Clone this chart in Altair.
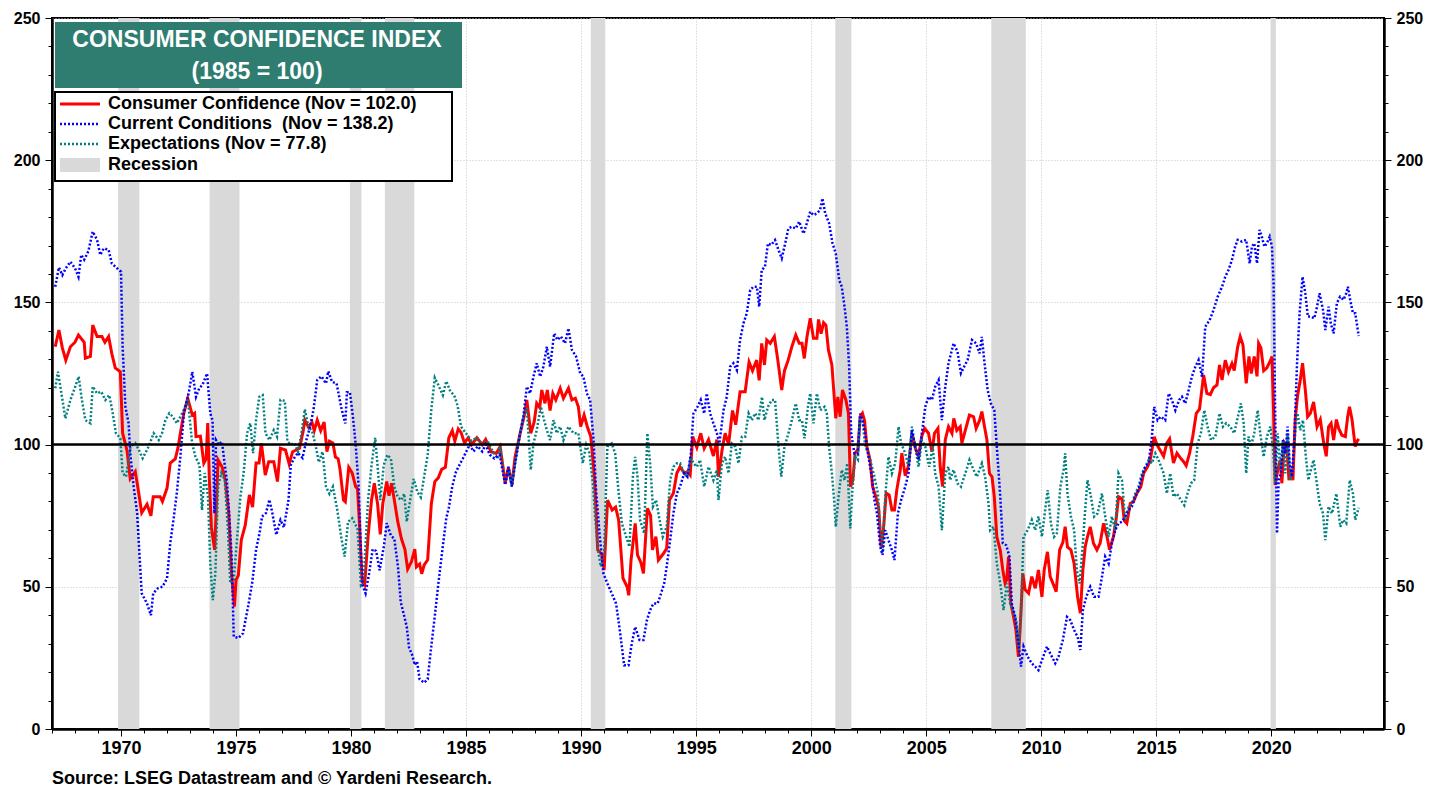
import altair as alt
import pandas as pd

# ---------------- data (decimal year, index value) ----------------
CONSUMER_CONFIDENCE = [
(1967.14,134.4),(1967.30,140.3),(1967.45,134.0),(1967.60,129.7),(1967.80,134.4),(1968.00,136.0),(1968.15,138.5),(1968.40,136.0),(1968.45,130.4),(1968.67,131.0),(1968.77,142.0),(1968.96,138.0),(1969.17,138.0),(1969.30,136.0),(1969.46,138.0),(1969.60,132.0),(1969.75,127.0),(1969.97,125.6),(1970.07,104.0),(1970.26,98.0),(1970.40,88.0),(1970.62,90.5),(1970.77,83.0),(1970.90,76.0),(1971.13,79.0),(1971.30,75.0),(1971.40,81.7),(1971.70,81.7),(1971.80,80.0),(1972.00,84.7),(1972.14,93.5),(1972.36,95.0),(1972.48,99.0),(1972.58,104.0),(1972.73,111.0),(1972.90,116.3),(1973.10,110.4),(1973.20,111.0),(1973.26,102.8),(1973.45,103.0),(1973.60,93.5),(1973.70,95.0),(1973.77,107.6),(1973.84,87.5),(1973.93,70.7),(1974.07,63.0),(1974.22,94.6),(1974.40,92.0),(1974.53,87.5),(1974.68,76.0),(1974.80,55.0),(1974.93,43.0),(1975.00,52.4),(1975.10,54.0),(1975.23,66.5),(1975.40,71.7),(1975.58,82.3),(1975.72,78.0),(1975.87,93.5),(1976.00,93.5),(1976.10,100.5),(1976.27,89.3),(1976.42,94.0),(1976.64,94.0),(1976.80,87.0),(1976.93,98.7),
(1977.15,98.1),(1977.31,93.2),(1977.46,97.5),(1977.61,98.1),(1977.76,98.7),(1977.92,104.9),(1977.99,108.6),(1978.15,106.1),(1978.30,107.9),(1978.40,104.9),(1978.53,108.6),(1978.68,104.9),(1978.83,107.9),(1978.95,97.5),(1979.06,101.2),(1979.21,100.6),(1979.32,95.6),(1979.44,95.0),(1979.52,91.3),(1979.67,80.5),(1979.75,79.9),(1979.90,92.0),(1980.05,90.0),(1980.20,85.2),(1980.28,84.5),(1980.36,72.9),(1980.48,51.8),(1980.59,50.6),(1980.74,67.8),(1980.89,80.5),(1981.01,86.4),(1981.15,79.3),(1981.27,68.4),(1981.38,79.3),(1981.55,87.0),(1981.65,82.0),(1981.76,86.4),(1981.88,80.5),(1982.03,72.9),(1982.19,66.9),(1982.34,63.2),(1982.46,56.2),(1982.62,58.7),(1982.77,63.2),(1982.84,57.0),(1982.98,58.0),(1983.07,54.6),(1983.18,57.7),(1983.33,59.5),(1983.49,79.3),(1983.64,87.0),(1983.79,88.3),(1983.94,91.3),(1984.10,92.0),(1984.25,102.4),(1984.40,104.9),(1984.51,101.2),(1984.66,105.5),(1984.78,104.3),(1984.93,100.6),(1985.09,102.4),(1985.24,100.0),(1985.47,102.4),(1985.70,100.0),(1985.85,101.8),(1986.08,97.5),(1986.31,96.9),
(1986.48,99.3),(1986.70,86.4),(1986.84,92.0),(1986.99,85.8),(1987.13,95.7),(1987.35,104.0),(1987.52,109.8),(1987.64,115.7),(1987.81,104.0),(1987.96,108.0),(1988.07,114.5),(1988.20,113.0),(1988.29,119.2),(1988.43,114.5),(1988.53,119.2),(1988.65,112.0),(1988.77,118.0),(1988.90,115.7),(1989.09,119.8),(1989.23,116.3),(1989.45,119.8),(1989.60,115.7),(1989.75,116.3),(1989.88,113.3),(1989.98,106.3),(1990.13,110.4),(1990.27,106.3),(1990.42,102.8),(1990.54,92.2),(1990.60,85.0),(1990.72,63.0),(1990.90,61.5),(1991.00,55.9),(1991.15,80.5),(1991.35,77.0),(1991.50,78.0),(1991.63,73.5),(1991.82,53.0),(1992.00,50.0),(1992.07,47.0),(1992.17,59.4),(1992.35,72.3),(1992.45,61.2),(1992.60,58.5),(1992.71,54.7),(1992.88,77.6),(1993.02,75.0),(1993.10,63.0),(1993.25,67.6),(1993.36,59.4),(1993.58,61.7),(1993.72,63.5),(1993.84,80.5),(1994.01,82.9),(1994.16,89.9),(1994.30,92.2),(1994.48,90.0),(1994.62,90.5),(1994.74,89.3),(1994.85,102.8),(1995.03,99.0),(1995.20,104.0),(1995.35,98.7),(1995.54,101.8),(1995.75,96.0),(1995.90,101.8),(1995.97,88.7),(1996.13,98.3),
(1996.26,104.0),(1996.41,100.0),(1996.58,112.0),(1996.72,107.0),(1996.91,118.6),(1997.13,118.6),(1997.30,129.0),(1997.45,126.0),(1997.63,129.7),(1997.74,122.6),(1997.85,135.6),(1997.97,128.0),(1998.07,136.8),(1998.22,135.6),(1998.40,138.0),(1998.55,129.7),(1998.72,119.2),(1998.84,126.0),(1999.00,129.7),(1999.16,134.4),(1999.33,138.5),(1999.48,135.6),(1999.60,135.6),(1999.70,130.3),(1999.82,138.0),(1999.96,144.4),(2000.10,137.4),(2000.25,137.4),(2000.32,144.0),(2000.43,139.0),(2000.54,142.9),(2000.64,142.0),(2000.75,133.3),(2000.90,128.0),(2001.07,109.2),(2001.16,116.8),(2001.26,109.8),(2001.36,119.2),(2001.51,115.7),(2001.62,111.0),(2001.71,85.2),(2001.81,87.5),(2001.91,97.0),(2002.03,98.3),(2002.13,109.8),(2002.23,111.0),(2002.32,108.5),(2002.42,99.3),(2002.56,94.6),(2002.67,85.2),(2002.81,81.7),(2002.93,78.0),(2003.04,64.1),(2003.14,70.0),(2003.26,82.9),(2003.39,82.3),(2003.51,77.0),(2003.62,77.0),(2003.72,84.0),(2003.87,91.0),(2003.94,97.0),(2004.09,89.0),(2004.23,92.6),(2004.38,104.0),(2004.52,99.0),(2004.67,96.0),(2004.81,103.0),(2004.93,105.7),(2005.10,104.0),(2005.25,97.5),(2005.36,104.0),(2005.51,105.7),(2005.61,92.2),(2005.71,85.2),(2005.83,101.7),(2005.97,106.3),(2006.12,104.0),
(2006.20,109.2),(2006.33,105.0),(2006.48,106.3),(2006.55,100.5),(2006.70,105.0),(2006.88,110.4),(2007.06,109.8),(2007.17,105.7),(2007.32,108.5),(2007.42,111.6),(2007.52,107.0),(2007.64,101.6),(2007.75,89.9),(2007.86,88.7),(2007.96,81.7),(2008.07,67.6),(2008.22,62.8),(2008.33,55.9),(2008.43,51.2),(2008.50,52.4),(2008.58,60.6),(2008.68,44.1),(2008.80,39.4),(2008.90,34.8),(2009.01,25.4),(2009.08,34.8),(2009.20,54.7),(2009.30,49.0),(2009.45,47.7),(2009.59,53.6),(2009.74,49.5),(2009.88,55.9),(2010.03,46.5),(2010.13,55.9),(2010.27,62.3),(2010.39,53.6),(2010.54,50.6),(2010.65,48.3),(2010.80,63.0),(2010.94,65.6),(2011.04,71.1),(2011.14,64.0),(2011.29,63.0),(2011.43,58.2),(2011.58,46.5),(2011.70,40.7),(2011.81,55.9),(2011.91,64.0),(2012.01,67.6),(2012.13,71.1),(2012.27,65.3),(2012.42,63.0),(2012.56,65.3),(2012.71,72.3),(2012.86,67.6),(2012.97,63.0),(2013.14,67.6),(2013.26,74.0),(2013.36,81.7),(2013.51,81.0),(2013.61,73.3),(2013.72,72.3),(2013.87,79.3),(2014.01,79.9),(2014.16,82.9),(2014.33,85.2),(2014.45,89.9),(2014.62,92.2),(2014.74,94.6),(2014.91,102.8),(2015.03,100.0),
(2015.17,98.0),(2015.32,95.9),(2015.46,100.5),(2015.58,102.0),(2015.75,93.5),(2015.90,97.0),(2016.04,95.4),(2016.19,94.0),(2016.30,92.6),(2016.45,97.0),(2016.59,103.0),(2016.74,111.0),(2016.88,112.5),(2017.06,124.5),(2017.20,118.0),(2017.35,117.6),(2017.49,120.0),(2017.64,121.0),(2017.75,128.0),(2017.86,122.7),(2018.00,129.7),(2018.14,125.6),(2018.29,128.5),(2018.39,126.0),(2018.54,134.4),(2018.65,138.0),(2018.77,135.0),(2018.91,121.5),(2019.03,131.0),(2019.13,125.0),(2019.26,131.0),(2019.38,124.0),(2019.45,135.6),(2019.55,134.0),(2019.67,126.0),(2019.81,127.0),(2019.96,129.5),(2020.03,131.0),(2020.10,111.5),(2020.17,85.8),(2020.28,91.0),(2020.39,94.6),(2020.46,86.4),(2020.57,100.5),(2020.68,99.0),(2020.77,87.5),(2020.86,90.0),(2020.94,87.5),(2021.04,108.8),(2021.14,117.0),(2021.26,122.7),(2021.36,128.6),(2021.48,119.2),(2021.58,109.8),(2021.70,111.0),(2021.84,115.0),(2021.99,106.3),(2022.13,108.8),(2022.28,100.5),(2022.39,95.9),(2022.49,106.3),(2022.60,107.5),(2022.71,101.6),(2022.83,108.8),(2022.93,105.7),(2023.07,103.3),(2023.22,102.8),(2023.32,109.8),(2023.40,113.3),(2023.51,108.8),(2023.58,104.0),(2023.65,99.3),(2023.72,101.0),(2023.80,102.0),
]

CURRENT_CONDITIONS = [
(1967.14,155.5),(1967.30,162.3),(1967.45,159.6),(1967.60,162.0),(1967.80,164.3),(1968.00,162.0),(1968.15,159.0),(1968.27,166.7),(1968.40,165.0),(1968.58,168.0),(1968.77,174.9),(1968.96,172.0),(1969.10,166.7),(1969.25,169.0),(1969.46,168.5),(1969.60,163.7),(1969.83,162.0),(1970.00,160.8),(1970.07,134.4),(1970.19,113.3),(1970.33,107.5),(1970.40,97.0),(1970.55,85.2),(1970.70,75.9),(1970.80,61.8),(1970.90,47.7),(1971.13,44.1),(1971.30,40.0),(1971.40,47.7),(1971.60,49.5),(1971.80,50.0),(1972.00,53.0),(1972.14,65.3),(1972.30,74.7),(1972.43,83.4),(1972.58,95.7),(1972.73,111.0),(1972.94,118.0),(1973.10,125.6),(1973.26,116.8),(1973.40,119.8),(1973.54,121.0),(1973.74,125.0),(1973.88,111.0),(1973.98,108.5),(1974.06,75.8),(1974.13,101.6),(1974.24,100.0),(1974.39,101.0),(1974.50,93.5),(1974.60,87.5),(1974.70,76.0),(1974.81,60.6),(1974.90,32.5),(1975.10,32.0),(1975.30,33.6),(1975.55,44.2),(1975.70,51.3),(1975.87,63.0),(1976.02,68.8),(1976.13,74.7),(1976.30,75.9),(1976.45,80.6),(1976.58,75.9),(1976.75,68.3),(1976.93,73.5),
(1977.08,70.9),(1977.28,80.5),(1977.38,92.8),(1977.53,95.3),(1977.69,97.1),(1977.89,95.3),(1978.07,102.0),(1978.22,106.3),(1978.37,112.4),(1978.53,122.7),(1978.71,124.0),(1978.91,121.5),(1979.01,125.8),(1979.17,122.1),(1979.37,121.5),(1979.59,112.4),(1979.75,107.4),(1979.82,118.4),(1979.95,118.4),(1980.08,109.9),(1980.20,100.0),(1980.33,85.2),(1980.43,61.9),(1980.51,50.2),(1980.63,47.7),(1980.78,54.5),(1980.94,63.2),(1981.09,62.6),(1981.24,55.8),(1981.43,64.4),(1981.55,72.4),(1981.73,68.0),(1981.88,66.9),(1982.04,57.0),(1982.16,44.6),(1982.31,39.7),(1982.42,36.0),(1982.52,28.6),(1982.65,26.2),(1982.77,22.5),(1982.87,23.7),(1982.98,17.5),(1983.18,16.3),(1983.33,17.5),(1983.48,28.6),(1983.64,39.7),(1983.79,50.8),(1983.99,64.4),(1984.14,74.2),(1984.25,77.9),(1984.40,85.3),(1984.55,90.2),(1984.70,92.7),(1984.86,95.1),(1985.01,97.6),(1985.16,100.0),(1985.32,97.6),(1985.51,99.4),(1985.70,97.6),(1985.85,100.0),(1986.03,96.4),(1986.23,95.1),(1986.46,96.4),
(1986.70,85.8),(1986.84,92.2),(1986.99,85.2),(1987.13,93.4),(1987.35,104.0),(1987.49,109.8),(1987.64,120.4),(1987.78,118.0),(1987.93,123.9),(1988.07,128.6),(1988.22,123.9),(1988.36,127.4),(1988.51,134.4),(1988.65,127.4),(1988.83,139.1),(1988.97,136.8),(1989.12,138.0),(1989.30,135.6),(1989.45,140.9),(1989.60,133.3),(1989.78,131.0),(1989.96,125.1),(1990.10,123.9),(1990.25,118.0),(1990.39,115.7),(1990.54,101.7),(1990.65,84.0),(1990.80,68.8),(1990.97,54.7),(1991.14,51.2),(1991.33,47.7),(1991.52,44.1),(1991.70,33.6),(1991.87,22.4),(1992.06,22.4),(1992.20,30.0),(1992.35,35.9),(1992.54,31.3),(1992.71,31.3),(1992.86,38.3),(1993.00,41.8),(1993.14,44.1),(1993.32,44.1),(1993.43,46.5),(1993.61,51.2),(1993.72,57.1),(1993.87,66.4),(1994.01,75.8),(1994.16,82.8),(1994.30,85.2),(1994.48,89.9),(1994.62,88.7),(1994.77,96.9),(1994.88,110.9),(1995.06,113.3),(1995.20,115.7),(1995.35,110.9),(1995.46,118.0),(1995.61,110.9),(1995.75,107.5),(1995.90,104.0),(1996.01,100.4),(1996.19,112.1),
(1996.33,116.8),(1996.48,127.4),(1996.62,128.6),(1996.77,126.2),(1996.91,136.8),(1997.06,142.7),(1997.20,146.2),(1997.35,154.3),(1997.49,155.5),(1997.64,155.5),(1997.74,148.5),(1997.85,161.4),(1997.99,162.5),(1998.12,170.7),(1998.26,170.2),(1998.43,171.9),(1998.58,168.4),(1998.72,165.5),(1998.87,170.7),(1999.01,176.0),(1999.16,176.6),(1999.33,176.0),(1999.48,178.4),(1999.67,174.2),(1999.81,177.8),(1999.96,181.9),(2000.10,180.7),(2000.25,181.3),(2000.39,182.5),(2000.49,186.6),(2000.61,181.3),(2000.78,177.8),(2000.93,170.7),(2001.07,167.2),(2001.22,157.8),(2001.33,155.5),(2001.45,148.5),(2001.55,141.4),(2001.65,127.4),(2001.74,103.9),(2001.88,96.9),(2002.03,96.9),(2002.13,110.9),(2002.23,108.6),(2002.35,103.9),(2002.49,95.7),(2002.64,88.7),(2002.75,80.5),(2002.86,75.8),(2003.00,64.1),(2003.10,61.2),(2003.22,69.9),(2003.36,66.4),(2003.51,62.9),(2003.62,59.4),(2003.77,75.8),(2003.91,80.5),(2004.09,85.2),(2004.23,89.9),(2004.38,105.1),(2004.52,99.3),(2004.67,94.6),(2004.81,103.9),(2004.96,113.3),(2005.10,116.8),(2005.25,115.7),(2005.39,120.4),(2005.54,122.7),(2005.68,108.6),(2005.83,120.4),(2005.97,128.6),(2006.19,135.6),
(2006.36,132.7),(2006.51,125.1),(2006.65,127.4),(2006.80,129.8),(2006.99,136.8),(2007.17,135.6),(2007.32,132.1),(2007.42,137.9),(2007.52,129.8),(2007.67,119.2),(2007.81,114.5),(2007.96,112.1),(2008.07,99.3),(2008.22,81.7),(2008.33,65.3),(2008.48,64.6),(2008.62,60.6),(2008.72,44.1),(2008.87,39.4),(2009.01,30.1),(2009.12,21.9),(2009.23,29.0),(2009.41,25.4),(2009.59,23.1),(2009.74,21.9),(2009.88,20.7),(2010.03,24.2),(2010.25,29.0),(2010.39,26.6),(2010.61,23.1),(2010.75,25.4),(2010.94,31.3),(2011.12,39.4),(2011.26,38.3),(2011.43,34.8),(2011.58,32.4),(2011.70,27.8),(2011.81,41.8),(2011.96,46.5),(2012.13,50.0),(2012.30,46.5),(2012.49,46.5),(2012.64,53.5),(2012.78,60.6),(2012.93,58.2),(2013.07,65.3),(2013.22,70.0),(2013.36,72.3),(2013.51,72.9),(2013.65,74.7),(2013.80,77.0),(2013.94,78.2),(2014.09,81.7),(2014.23,84.0),(2014.38,88.7),(2014.52,92.2),(2014.67,93.4),(2014.81,102.8),(2014.91,113.3),(2015.06,108.6),(2015.20,109.8),
(2015.39,108.6),(2015.54,118.0),(2015.68,115.7),(2015.83,112.1),(2016.00,115.7),(2016.12,116.8),(2016.26,114.5),(2016.41,119.2),(2016.55,123.9),(2016.70,127.4),(2016.84,129.7),(2016.99,123.9),(2017.13,141.4),(2017.32,143.8),(2017.49,147.3),(2017.67,152.0),(2017.86,155.5),(2018.00,159.0),(2018.14,161.4),(2018.29,164.9),(2018.43,169.6),(2018.54,172.0),(2018.72,171.4),(2018.91,172.0),(2019.06,163.7),(2019.16,169.6),(2019.26,170.8),(2019.38,163.7),(2019.49,175.5),(2019.59,173.1),(2019.70,169.6),(2019.81,170.8),(2019.93,173.1),(2020.03,169.6),(2020.10,156.7),(2020.17,110.9),(2020.25,68.8),(2020.32,87.5),(2020.42,89.9),(2020.51,101.6),(2020.61,96.9),(2020.71,106.3),(2020.80,93.4),(2020.90,88.7),(2021.00,101.6),(2021.12,128.6),(2021.23,146.2),(2021.36,159.0),(2021.48,153.2),(2021.59,145.0),(2021.72,145.0),(2021.87,144.4),(2021.99,148.5),(2022.10,153.2),(2022.25,147.3),(2022.35,140.3),(2022.49,148.5),(2022.59,142.6),(2022.71,139.1),(2022.85,149.7),(2022.99,152.0),(2023.14,150.9),(2023.26,153.2),(2023.33,155.5),(2023.43,150.9),(2023.55,146.2),(2023.65,146.2),(2023.80,138.2),
]

EXPECTATIONS = [
(1967.14,119.8),(1967.26,125.6),(1967.41,118.0),(1967.58,109.2),(1967.80,115.7),(1968.01,120.4),(1968.16,123.9),(1968.30,115.7),(1968.45,108.6),(1968.67,107.5),(1968.77,120.4),(1968.96,118.0),(1969.14,118.6),(1969.32,115.7),(1969.49,117.4),(1969.64,111.0),(1969.78,104.0),(1969.97,102.2),(1970.07,90.0),(1970.22,88.7),(1970.41,99.3),(1970.62,100.5),(1970.77,98.2),(1970.94,95.2),(1971.20,99.3),(1971.42,104.0),(1971.64,101.6),(1971.78,104.0),(1971.93,108.6),(1972.10,111.0),(1972.25,109.8),(1972.43,107.5),(1972.58,109.8),(1972.72,112.1),(1972.91,115.7),(1973.09,100.5),(1973.23,95.8),(1973.41,92.8),(1973.52,77.0),(1973.64,90.0),(1973.78,81.7),(1973.88,58.2),(1973.99,45.3),(1974.10,54.7),(1974.22,85.2),(1974.36,90.0),(1974.51,87.5),(1974.65,69.9),(1974.75,51.2),(1974.90,52.4),(1975.04,66.4),(1975.19,81.7),(1975.33,90.0),(1975.48,104.0),(1975.62,107.5),(1975.74,97.0),(1975.87,108.6),(1976.01,116.8),(1976.16,117.4),(1976.28,104.0),(1976.45,101.6),(1976.64,105.1),(1976.78,102.8),(1976.93,115.7),
(1977.12,115.4),(1977.23,101.2),(1977.38,100.0),(1977.53,100.6),(1977.69,97.5),(1977.84,103.7),(1977.99,112.4),(1978.15,106.1),(1978.30,104.9),(1978.45,100.0),(1978.60,93.8),(1978.76,97.5),(1978.91,85.2),(1979.06,82.7),(1979.21,85.2),(1979.41,76.6),(1979.56,68.0),(1979.72,60.6),(1979.87,72.9),(1980.05,74.1),(1980.28,70.4),(1980.43,50.6),(1980.54,51.8),(1980.74,80.5),(1980.89,92.8),(1981.05,102.4),(1981.15,92.8),(1981.27,80.5),(1981.42,92.8),(1981.58,96.4),(1981.73,95.1),(1981.88,85.2),(1982.03,81.5),(1982.19,80.5),(1982.31,82.7),(1982.42,72.9),(1982.57,80.5),(1982.72,87.9),(1982.88,83.4),(1983.03,81.5),(1983.18,88.9),(1983.33,96.4),(1983.49,112.4),(1983.64,123.5),(1983.79,121.0),(1983.99,117.4),(1984.14,122.3),(1984.32,118.6),(1984.48,117.4),(1984.63,113.7),(1984.78,106.3),(1985.01,103.8),(1985.24,101.3),(1985.47,102.5),(1985.70,100.0),(1985.93,101.3),(1986.16,97.5),(1986.38,95.1),
(1986.48,99.3),(1986.70,86.4),(1986.84,91.1),(1986.99,85.8),(1987.20,96.9),(1987.35,104.0),(1987.49,109.8),(1987.64,112.8),(1987.81,91.1),(1987.93,100.4),(1988.07,105.1),(1988.25,113.4),(1988.39,108.6),(1988.51,105.1),(1988.65,101.6),(1988.80,108.6),(1988.94,104.0),(1989.09,106.3),(1989.23,101.6),(1989.45,106.3),(1989.67,104.0),(1989.88,104.0),(1990.07,93.4),(1990.22,99.9),(1990.36,97.0),(1990.51,86.4),(1990.61,74.7),(1990.73,63.0),(1990.86,57.1),(1991.00,61.8),(1991.14,99.3),(1991.33,100.4),(1991.48,96.9),(1991.62,84.0),(1991.77,72.3),(1991.96,67.6),(1992.10,64.1),(1992.25,88.7),(1992.35,95.7),(1992.45,88.7),(1992.56,73.5),(1992.74,68.8),(1992.88,104.0),(1993.00,93.4),(1993.12,78.2),(1993.26,80.5),(1993.41,73.5),(1993.55,67.6),(1993.72,71.1),(1993.87,87.5),(1994.01,92.2),(1994.16,93.4),(1994.30,93.4),(1994.48,89.9),(1994.62,88.7),(1994.77,95.7),(1994.88,93.4),(1995.03,92.2),(1995.17,94.6),(1995.35,85.2),(1995.54,92.2),(1995.75,87.5),(1995.90,91.1),(1995.97,80.5),(1996.12,93.4),
(1996.26,95.7),(1996.41,89.9),(1996.55,100.4),(1996.70,99.3),(1996.84,93.4),(1996.99,102.8),(1997.13,102.8),(1997.28,111.0),(1997.42,108.6),(1997.57,111.0),(1997.71,108.6),(1997.86,116.8),(1997.97,108.6),(1998.12,113.3),(1998.29,115.7),(1998.43,115.7),(1998.58,99.3),(1998.70,88.7),(1998.84,99.3),(1999.01,103.9),(1999.16,108.6),(1999.33,114.5),(1999.48,108.6),(1999.60,108.6),(1999.71,102.2),(1999.86,113.3),(1999.96,118.0),(2000.10,107.5),(2000.25,118.0),(2000.39,112.1),(2000.58,113.3),(2000.68,111.0),(2000.78,99.3),(2000.90,89.9),(2001.00,80.5),(2001.07,71.1),(2001.19,81.7),(2001.33,91.1),(2001.45,87.5),(2001.57,93.4),(2001.70,70.5),(2001.80,85.2),(2001.91,95.7),(2002.03,94.6),(2002.13,109.8),(2002.23,108.6),(2002.35,99.3),(2002.49,96.9),(2002.64,92.2),(2002.75,88.7),(2002.90,82.8),(2003.01,68.8),(2003.10,61.8),(2003.22,81.7),(2003.36,95.7),(2003.51,89.9),(2003.65,93.4),(2003.80,106.3),(2003.91,100.4),(2004.09,96.9),(2004.23,92.2),(2004.38,106.3),(2004.52,99.3),(2004.67,92.2),(2004.81,101.6),(2004.96,99.3),(2005.13,92.2),(2005.28,99.3),(2005.39,89.9),(2005.54,85.2),(2005.68,69.9),(2005.83,89.9),(2005.97,92.2),
(2006.04,87.5),(2006.19,91.1),(2006.36,86.4),(2006.51,85.2),(2006.70,89.9),(2006.88,94.6),(2007.06,91.1),(2007.20,88.7),(2007.42,93.4),(2007.56,88.7),(2007.71,79.3),(2007.78,69.9),(2007.93,71.1),(2008.07,58.2),(2008.22,51.2),(2008.36,41.8),(2008.51,51.2),(2008.65,44.1),(2008.80,40.6),(2008.91,38.3),(2009.01,27.8),(2009.12,40.6),(2009.23,67.6),(2009.41,69.9),(2009.59,73.5),(2009.74,69.9),(2009.88,74.7),(2010.03,67.6),(2010.17,77.0),(2010.28,84.0),(2010.42,72.3),(2010.56,67.6),(2010.68,68.8),(2010.83,85.2),(2010.97,91.1),(2011.04,96.9),(2011.14,82.8),(2011.29,74.7),(2011.43,69.9),(2011.55,55.9),(2011.67,51.2),(2011.81,65.3),(2011.91,77.0),(2012.01,87.5),(2012.16,81.7),(2012.30,74.7),(2012.45,75.8),(2012.64,82.8),(2012.78,74.7),(2012.93,67.6),(2013.07,74.7),(2013.22,70.0),(2013.36,89.9),(2013.51,87.5),(2013.65,73.5),(2013.80,78.2),(2013.94,79.3),(2014.09,82.8),(2014.23,85.2),(2014.38,89.9),(2014.52,92.2),(2014.67,94.6),(2014.81,93.4),(2014.96,96.9),(2015.10,94.6),
(2015.32,89.9),(2015.46,82.8),(2015.61,89.9),(2015.75,81.7),(2015.90,82.8),(2016.07,80.5),(2016.22,78.7),(2016.36,82.8),(2016.51,86.4),(2016.65,87.5),(2016.80,100.4),(2016.94,104.0),(2017.09,112.1),(2017.23,106.3),(2017.38,101.6),(2017.57,102.8),(2017.75,111.0),(2017.90,106.3),(2018.04,107.5),(2018.22,106.3),(2018.39,104.0),(2018.58,111.0),(2018.68,114.5),(2018.80,107.5),(2018.91,89.9),(2019.01,102.8),(2019.12,99.3),(2019.26,104.0),(2019.41,112.1),(2019.52,104.0),(2019.67,95.7),(2019.81,102.8),(2019.96,106.3),(2020.07,99.3),(2020.17,86.4),(2020.28,104.0),(2020.39,91.1),(2020.51,101.6),(2020.61,89.9),(2020.71,104.0),(2020.83,87.5),(2020.94,92.2),(2021.04,104.0),(2021.14,111.0),(2021.26,105.1),(2021.38,108.6),(2021.49,96.9),(2021.61,87.5),(2021.72,91.1),(2021.84,94.6),(2021.96,87.5),(2022.10,79.3),(2022.25,75.8),(2022.35,66.4),(2022.49,78.2),(2022.64,75.8),(2022.83,82.8),(2023.00,71.1),(2023.12,73.5),(2023.26,72.3),(2023.41,87.5),(2023.55,82.8),(2023.65,73.5),(2023.80,77.8),
]

RECESSION_START = [1969.87, 1973.85, 1979.95, 1981.47, 1990.42, 2001.05, 2007.83, 2019.97]
RECESSION_END = [1970.80, 1975.15, 1980.45, 1982.75, 1991.05, 2001.75, 2009.33, 2020.20]

TITLE_LINES = ["CONSUMER CONFIDENCE INDEX", "(1985 = 100)"]
LEGEND_LABELS = ["Consumer Confidence (Nov = 102.0)", "Current Conditions \u00a0(Nov = 138.2)",
                 "Expectations (Nov = 77.8)", "Recession"]
SOURCE = "Source: LSEG Datastream and \u00a9 Yardeni Research."
BASELINE = [100]

# ---------------- styling ----------------
FONT = "Liberation Sans"
NARROW = "Liberation Sans Narrow, Arial Narrow, Liberation Sans"
RED = "#ff0000"
BLUE = "#0000ff"
TEAL = "#008080"
GREY = "#d9d9d9"
TITLE_BG = "#2e7d70"

W, H = 1332, 711

xscale = alt.Scale(domain=[1967, 2024.9], nice=False, zero=False)
yscale = alt.Scale(domain=[0, 250], nice=False, zero=True)

xaxis = alt.Axis(
    values=list(range(1967, 2025)),
    labelExpr="datum.value % 5 === 0 ? format(datum.value, 'd') : ''",
    tickSize={"condition": {"test": "datum.value % 5 === 0", "value": 7}, "value": 4},
    grid=True, gridDash=[1, 2], gridColor="#c4c4c4",
    gridOpacity={"condition": {"test": "datum.value % 5 === 0", "value": 1}, "value": 0},
    domainColor="black", domainWidth=2.5, tickColor="black", tickWidth=1,
    labelFont=NARROW, labelFontSize=18, labelFontWeight="bold", labelColor="black",
    labelPadding=3, labelOverlap=False, labelFlush=False, title=None,
)


def yaxis(orient, grid):
    return alt.Axis(
        orient=orient,
        values=list(range(0, 251, 10)),
        labelExpr="datum.value % 50 === 0 ? format(datum.value, 'd') : ''",
        tickSize={"condition": {"test": "datum.value % 50 === 0", "value": 7}, "value": 4},
        grid=grid, gridDash=[1, 2], gridColor="#c4c4c4",
        gridOpacity={"condition": {"test": "datum.value % 50 === 0", "value": 1}, "value": 0},
        domainColor="black", domainWidth=2.5, tickColor="black",
        labelFont=FONT, labelFontSize=16, labelFontWeight="bold", labelColor="black",
        labelPadding=5, labelOverlap=False, labelFlush=False, title=None,
    )


def series_df(pairs):
    return pd.DataFrame(pairs, columns=["date", "value"])


rec_df = pd.DataFrame({"start": RECESSION_START, "end": RECESSION_END})

recession = alt.Chart(rec_df).mark_rect(color=GREY).encode(
    x=alt.X("start:Q", scale=xscale, axis=xaxis),
    x2="end:Q",
)


def line_layer(pairs, color, width, dash, axis):
    kw = dict(color=color, strokeWidth=width, clip=True)
    if dash:
        kw["strokeDash"] = dash
    return alt.Chart(series_df(pairs)).mark_line(**kw).encode(
        x=alt.X("date:Q", scale=xscale, axis=xaxis),
        y=alt.Y("value:Q", scale=yscale, axis=axis),
    )


cc_line = line_layer(CONSUMER_CONFIDENCE, RED, 3, None, yaxis("left", True))
ex_line = line_layer(EXPECTATIONS, TEAL, 2.5, [2, 2], None)
pc_line = line_layer(CURRENT_CONDITIONS, BLUE, 2.5, [2, 2], None)

rule100 = alt.Chart(pd.DataFrame({"y": BASELINE})).mark_rule(color="black", strokeWidth=2.5).encode(
    y=alt.Y("y:Q", scale=yscale, axis=yaxis("right", False)),
)

one = pd.DataFrame({"k": [0]})

title_box = alt.Chart(one).mark_rect(color=TITLE_BG).encode(
    x=alt.value(3), x2=alt.value(410), y=alt.value(4), y2=alt.value(70))
title_texts = [
    alt.Chart(one).mark_text(font=FONT, fontSize=23, fontWeight="bold", color="white",
                             align="center", baseline="middle").encode(
        x=alt.value(205), y=alt.value(yy), text=alt.value(t))
    for t, yy in zip(TITLE_LINES, [22, 54])
]

legend_box = alt.Chart(one).mark_rect(fill="white", stroke="black", strokeWidth=2).encode(
    x=alt.value(3), x2=alt.value(400), y=alt.value(74), y2=alt.value(163))

row_y = [86, 106, 126, 147]
legend_swatches = [
    alt.Chart(one).mark_rule(color=RED, strokeWidth=3).encode(
        x=alt.value(8), x2=alt.value(48), y=alt.value(row_y[0])),
    alt.Chart(one).mark_rule(color=BLUE, strokeWidth=2.5, strokeDash=[2, 2]).encode(
        x=alt.value(8), x2=alt.value(48), y=alt.value(row_y[1])),
    alt.Chart(one).mark_rule(color=TEAL, strokeWidth=2.5, strokeDash=[2, 2]).encode(
        x=alt.value(8), x2=alt.value(48), y=alt.value(row_y[2])),
    alt.Chart(one).mark_rect(color=GREY).encode(
        x=alt.value(8), x2=alt.value(48), y=alt.value(row_y[3] - 7), y2=alt.value(row_y[3] + 7)),
]
legend_texts = [
    alt.Chart(one).mark_text(font=FONT, fontSize=18, fontWeight="bold", color="black",
                             align="left", baseline="middle").encode(
        x=alt.value(56), y=alt.value(yy), text=alt.value(lbl))
    for lbl, yy in zip(LEGEND_LABELS, row_y)
]

source_text = alt.Chart(one).mark_text(font=FONT, fontSize=18, fontWeight="bold", color="black",
                                       align="left", baseline="middle").encode(
    x=alt.value(0), y=alt.value(761), text=alt.value(SOURCE))

chart = alt.layer(
    recession, cc_line, ex_line, pc_line, rule100,
    title_box, *title_texts, legend_box, *legend_swatches, *legend_texts, source_text,
).resolve_scale(y="independent").properties(
    width=W, height=H,
    autosize=alt.AutoSizeParams(type="none"),
    padding={"left": 44, "top": 10, "right": 54, "bottom": 64},
    background="white",
).configure_view(stroke="black", strokeWidth=2)

chart.save("out.html", embed_options={"renderer": "svg", "actions": False})
